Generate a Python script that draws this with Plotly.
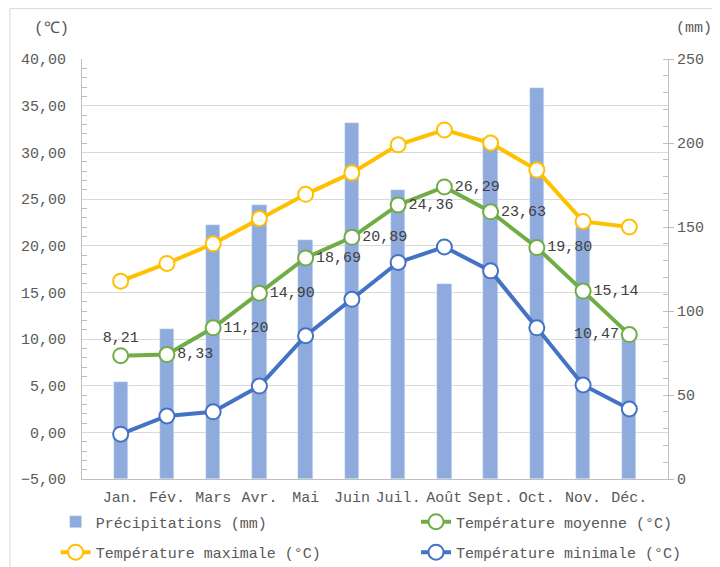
import plotly.graph_objects as go

mois = ["Jan.", "Fév.", "Mars", "Avr.", "Mai", "Juin",
        "Juil.", "Août", "Sept.", "Oct.", "Nov.", "Déc."]
precip = [58, 89, 151, 163, 142, 212, 172, 116, 203, 233, 150, 85]
t_max = [16.2, 18.1, 20.2, 22.9, 25.5, 27.8, 30.8, 32.4, 31.0, 28.1, 22.6, 22.0]
t_moy = [8.21, 8.33, 11.20, 14.90, 18.69, 20.89, 24.36, 26.29, 23.63, 19.80, 15.14, 10.47]
t_min = [-0.2, 1.75, 2.2, 4.96, 10.35, 14.25, 18.2, 19.86, 17.3, 11.2, 5.07, 2.5]

FONT = "Liberation Mono"
TXT = "#595959"
GRID = "#D9D9D9"
AXE = "#BFBFBF"

# positions des etiquettes de la moyenne
pos_moy = ["top center", "middle right", "middle right", "middle right", "middle right",
           "middle right", "middle right", "middle right", "middle right", "middle right",
           "middle right", "middle left"]
txt_moy = [f"{v:.2f}".replace(".", ",") for v in t_moy]


def ligne(y, nom, couleur, legende, mode="lines+markers", **kw):
    return go.Scatter(
        x=mois, y=y, name=nom, yaxis="y2", mode=mode,
        line=dict(color=couleur, width=4),
        marker=dict(size=15, color="white", line=dict(color=couleur, width=2)),
        legend=legende, legendgroup=nom, **kw,
    )


fig = go.Figure()
fig.add_trace(go.Bar(
    x=mois, y=precip, name="Précipitations (mm)", marker_color="#8FAADC",
    width=0.31, yaxis="y", legend="legend", legendgroup="p",
))
fig.add_trace(ligne(t_max, "Température maximale (°C)", "#FFC000", "legend"))
fig.add_trace(ligne(t_moy, "Température moyenne (°C)", "#70AD47", "legend2",
                    mode="lines+markers+text",
                    text=txt_moy, textposition=pos_moy,
                    textfont=dict(family=FONT, size=15, color="#404040")))
fig.add_trace(ligne(t_min, "Température minimale (°C)", "#4472C4", "legend2"))

leg = dict(orientation="v", yanchor="top", xanchor="left", bgcolor="rgba(0,0,0,0)",
           font=dict(family=FONT, size=15, color=TXT), tracegroupgap=8,
           itemwidth=30)

# la page ajoute une marge de 8 px en haut et a gauche
fig.update_layout(
    width=720, height=567,
    margin=dict(l=74, r=60, t=51, b=96, autoexpand=False),
    paper_bgcolor="white", plot_bgcolor="white",
    separators=", ",
    font=dict(family=FONT, size=15, color=TXT),
    bargap=0,
    xaxis=dict(showline=True, linecolor=AXE, ticks="", showgrid=False,
               ticklabelstandoff=4, tickfont=dict(size=15, color=TXT)),
    yaxis=dict(side="right", range=[0, 250], dtick=50, showgrid=False,
               showline=True, linecolor=AXE, ticks="outside", ticklen=5,
               tickcolor=AXE, zeroline=False,
               minor=dict(dtick=10, ticks="inside", ticklen=5, tickcolor=AXE)),
    yaxis2=dict(overlaying="y", side="left", range=[-5, 40], dtick=5,
                tickformat=".2f", showgrid=True, gridcolor=GRID, gridwidth=1,
                showline=True, linecolor=AXE, ticks="", zeroline=False,
                ticklabelstandoff=12,
                minor=dict(dtick=1, ticks="inside", ticklen=5, tickcolor=AXE)),
    legend=dict(leg, x=-0.045, y=-0.063),
    legend2=dict(leg, x=0.57, y=-0.063),
    showlegend=True,
    annotations=[
        dict(text="(℃)", x=-0.086, y=1.097, xref="paper", yref="paper",
             showarrow=False, font=dict(size=16, color=TXT)),
        dict(text="(mm)", x=1.079, y=1.097, xref="paper", yref="paper",
             showarrow=False, font=dict(size=15, color=TXT)),
    ],
    shapes=[dict(type="rect", xref="paper", yref="paper",
                 x0=-0.123, x1=1.2, y0=-0.3, y1=1.12,
                 line=dict(color=GRID, width=1))],
)

fig.write_html("out.html")
